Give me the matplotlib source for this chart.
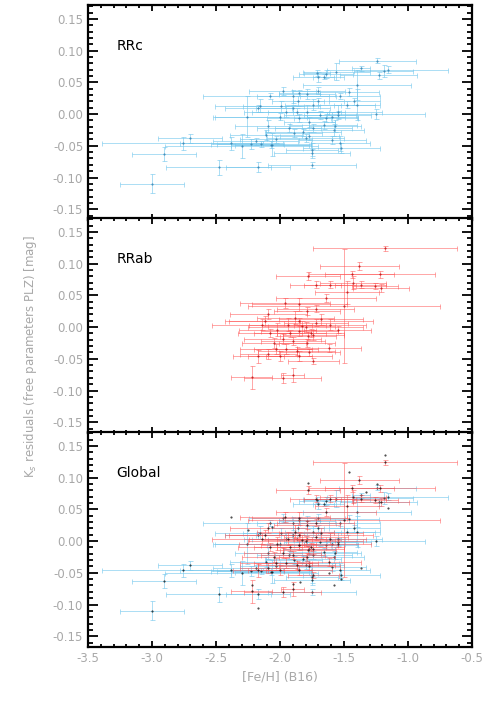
import matplotlib
matplotlib.use("Agg")
import matplotlib.pyplot as plt
from matplotlib.ticker import MultipleLocator, FormatStrFormatter

# RRc stars: [Fe/H], residual, errors
rrc_feh = [-3.00, -2.91, -2.76, -2.70, -2.38, -2.30, -2.23, -2.06, -2.48, -2.17,
           -1.75, -1.75, -2.07, -2.15, -1.24, -1.37, -1.19, -1.16, -1.23, -1.56,
           -1.71, -1.66, -1.40, -1.46, -1.70, -1.85, -1.53, -1.25, -1.40, -1.55,
           -1.57, -1.53, -1.59, -1.75, -1.77, -2.26, -2.17, -2.08, -1.98, -2.00,
           -1.90, -1.86, -1.85, -1.79, -1.74, -1.69, -1.64, -1.59, -1.55, -1.77,
           -1.93, -1.82, -1.89, -2.09, -2.11, -1.74, -1.66, -1.87, -1.95, -1.70,
           -1.79, -1.90, -2.19, -2.03, -1.80, -1.52, -1.58, -1.48, -1.42, -1.70,
           -1.64, -2.16, -1.99]
rrc_res = [-0.110, -0.063, -0.046, -0.038, -0.046, -0.050, -0.047, -0.048, -0.084, -0.084,
           -0.080, -0.062, -0.048, -0.047, 0.084, 0.072, 0.068, 0.070, 0.061, 0.067,
           0.065, 0.059, 0.046, 0.035, 0.037, 0.033, 0.028, 0.000, 0.015, -0.001,
           -0.019, -0.046, -0.041, -0.056, -0.035, -0.004, 0.009, 0.028, 0.036, -0.004,
           0.009, 0.020, -0.006, 0.004, 0.015, -0.001, -0.006, -0.004, 0.004, -0.012,
           -0.022, -0.029, -0.030, -0.019, -0.033, -0.022, -0.017, 0.004, 0.004, 0.020,
           0.031, 0.028, -0.043, -0.040, -0.038, -0.054, -0.025, 0.015, 0.020, 0.058,
           0.063, 0.013, 0.012]
rrc_xerr = [0.25, 0.25, 0.63, 0.25, 0.40, 0.60, 0.26, 0.29, 0.41, 0.25,
            0.34, 0.30, 0.31, 0.39, 0.30, 0.07, 0.23, 0.47, 0.30, 0.26,
            0.10, 0.08, 0.42, 0.23, 0.21, 0.16, 0.31, 0.38, 0.18, 0.26,
            0.20, 0.23, 0.26, 0.20, 0.23, 0.26, 0.26, 0.52, 0.26, 0.51,
            0.29, 0.20, 0.25, 0.30, 0.22, 0.28, 0.25, 0.20, 0.35, 0.20,
            0.25, 0.30, 0.22, 0.26, 0.28, 0.30, 0.26, 0.35, 0.33, 0.20,
            0.22, 0.28, 0.33, 0.28, 0.30, 0.30, 0.24, 0.22, 0.20, 0.20,
            0.21, 0.35, 0.30]
rrc_yerr = [0.015, 0.011, 0.010, 0.007, 0.010, 0.019, 0.008, 0.018, 0.012, 0.008,
            0.005, 0.007, 0.005, 0.005, 0.004, 0.004, 0.010, 0.006, 0.006, 0.013,
            0.005, 0.004, 0.024, 0.006, 0.006, 0.005, 0.005, 0.008, 0.024, 0.006,
            0.010, 0.012, 0.006, 0.010, 0.006, 0.032, 0.006, 0.005, 0.006, 0.006,
            0.006, 0.008, 0.006, 0.010, 0.008, 0.006, 0.006, 0.008, 0.010, 0.008,
            0.006, 0.006, 0.006, 0.010, 0.008, 0.006, 0.006, 0.006, 0.008, 0.006,
            0.008, 0.010, 0.006, 0.006, 0.006, 0.008, 0.010, 0.006, 0.006, 0.008,
            0.006, 0.010, 0.008]

# RRab stars
rrab_feh = [-1.18, -1.50, -1.38, -1.22, -1.44, -1.78, -1.72, -1.61, -1.43, -1.37,
            -1.26, -1.21, -1.48, -1.64, -1.96, -1.85, -1.72, -1.79, -2.09, -2.14,
            -1.94, -1.85, -1.72, -1.61, -1.55, -2.02, -2.08, -1.85, -1.76, -1.78,
            -1.74, -1.98, -1.90, -1.79, -1.62, -2.03, -1.95, -1.87, -1.85, -1.74,
            -2.17, -2.09, -2.00, -2.22, -1.98, -1.90, -2.12, -1.80, -1.68, -1.88,
            -1.92, -1.83, -2.05, -1.77]
rrab_res = [0.124, 0.033, 0.096, 0.083, 0.083, 0.081, 0.067, 0.067, 0.070, 0.067,
            0.065, 0.062, 0.055, 0.046, 0.038, 0.036, 0.029, 0.025, 0.020, 0.004,
            0.004, 0.009, 0.007, 0.004, -0.004, -0.004, -0.009, -0.006, -0.009, -0.014,
            -0.012, -0.019, -0.022, -0.025, -0.033, -0.035, -0.035, -0.038, -0.046, -0.053,
            -0.046, -0.043, -0.046, -0.079, -0.080, -0.075, 0.010, 0.000, 0.012, 0.015,
            -0.010, 0.002, -0.025, -0.040]
rrab_xerr = [0.56, 0.75, 0.31, 0.43, 0.33, 0.25, 0.20, 0.20, 0.26, 0.20,
             0.18, 0.22, 0.25, 0.39, 0.35, 0.37, 0.30, 0.26, 0.30, 0.39,
             0.30, 0.58, 0.25, 0.28, 0.26, 0.30, 0.25, 0.30, 0.26, 0.22,
             0.24, 0.30, 0.25, 0.22, 0.25, 0.28, 0.25, 0.30, 0.26, 0.20,
             0.20, 0.22, 0.25, 0.16, 0.30, 0.09, 0.28, 0.45, 0.33, 0.30,
             0.28, 0.26, 0.25, 0.24]
rrab_yerr = [0.004, 0.090, 0.006, 0.005, 0.006, 0.006, 0.005, 0.005, 0.010, 0.006,
             0.005, 0.006, 0.018, 0.006, 0.008, 0.010, 0.006, 0.006, 0.008, 0.008,
             0.010, 0.006, 0.006, 0.008, 0.006, 0.010, 0.006, 0.008, 0.006, 0.006,
             0.008, 0.008, 0.006, 0.006, 0.006, 0.008, 0.008, 0.006, 0.008, 0.005,
             0.010, 0.008, 0.008, 0.018, 0.008, 0.011, 0.008, 0.008, 0.008, 0.010,
             0.006, 0.008, 0.008, 0.006]

# extra black points shown in the global panel
extra_feh = [-1.18, -2.17, -2.38, -1.37, -1.58, -1.46, -1.78, -1.16, -2.22, -1.90,
             -1.52, -2.25, -1.62, -1.33, -1.24, -1.84, -2.06]
extra_res = [0.136, -0.106, 0.038, -0.042, -0.069, 0.109, 0.091, 0.052, -0.069, -0.067,
             -0.060, 0.018, -0.050, 0.078, 0.090, -0.065, 0.022]

panels = ["RRc", "RRab", "Global"]

blue = (0.45, 0.78, 0.93)
red = (1.0, 0.3, 0.3)
gray = "#a8a8a8"


def draw(ax, feh, res, xerr, yerr, color, alpha, dot):
    ax.errorbar(feh, res, xerr=xerr, yerr=yerr, fmt='none', ecolor=color,
                elinewidth=0.7, capsize=1.8, capthick=0.7, alpha=alpha)
    ax.plot(feh, res, '.', ms=1.0, color=dot, alpha=0.8)


def main():
    fig = plt.figure(figsize=(4.91, 7.14), dpi=100)
    left, width = 88 / 491, 384 / 491
    tops = [5, 218, 433]
    height = 215 / 714
    axes = []
    for i, name in enumerate(panels):
        bottom = 1 - (tops[i] + 215 - (1 if i == 2 else 0)) / 714
        ax = fig.add_axes([left, bottom, width, height])
        axes.append(ax)
        if name in ("RRc", "Global"):
            draw(ax, rrc_feh, rrc_res, rrc_xerr, rrc_yerr, blue, 0.6,
                 (0.15, 0.45, 0.65) if name == "RRc" else "k")
        if name in ("RRab", "Global"):
            draw(ax, rrab_feh, rrab_res, rrab_xerr, rrab_yerr, red, 0.5,
                 (0.7, 0.0, 0.0) if name == "RRab" else "k")
        if name == "Global":
            ax.plot(extra_feh, extra_res, 'k.', ms=1.0, alpha=0.8)
        ax.text(-3.28, 0.108, name, fontsize=10, color="k", va="center")
        ax.set_xlim(-3.5, -0.5)
        ax.set_ylim(-0.167, 0.172)
        ax.xaxis.set_major_locator(MultipleLocator(0.5))
        ax.xaxis.set_minor_locator(MultipleLocator(0.1))
        ax.yaxis.set_major_locator(MultipleLocator(0.05))
        ax.yaxis.set_minor_locator(MultipleLocator(0.01))
        ax.yaxis.set_major_formatter(FormatStrFormatter('%.2f'))
        ax.xaxis.set_major_formatter(FormatStrFormatter('%.1f'))
        ax.tick_params(axis='both', which='both', direction='in', top=True,
                       right=True, colors='k', labelcolor=gray, labelsize=8.5,
                       width=1.3)
        ax.tick_params(axis='y', which='major', length=7)
        ax.tick_params(axis='y', which='minor', length=3.5)
        ax.tick_params(axis='x', which='major', length=4)
        ax.tick_params(axis='x', which='minor', length=2)
        for s in ax.spines.values():
            s.set_linewidth(1.6)
        if i < 2:
            ax.tick_params(axis='x', labelbottom=False)
    axes[2].set_xlabel("[Fe/H] (B16)", color=gray, fontsize=9)
    fig.text(0.062, 0.5, "K$_s$ residuals (free parameters PLZ) [mag]",
             rotation=90, color=gray, fontsize=8.5, ha="center", va="center")
    fig.savefig("out.png", dpi=100)


if __name__ == "__main__":
    main()
